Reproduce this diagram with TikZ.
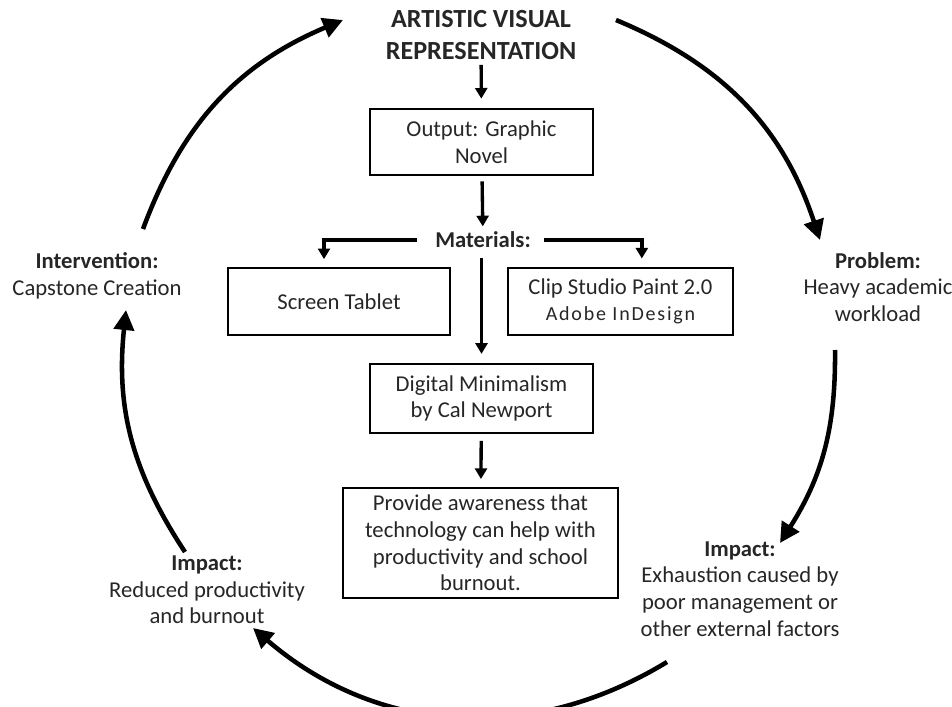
\documentclass[tikz,border=0pt]{standalone}
\usepackage{fontspec}
\setmainfont{Carlito}
\usetikzlibrary{arrows.meta}
\definecolor{txtgray}{HTML}{262626}

\begin{document}
\begin{tikzpicture}[x=0.75pt, y=-0.75pt, text=txtgray,
    font=\fontsize{17}{20}\selectfont]
    \tikzstyle{block} = [draw=black, line width=1.5pt, rectangle,
    align=center, inner sep=2pt, minimum width=167pt, minimum height=50pt];
    \tikzstyle{stage} = [align=center, inner sep=0pt];
    \tikzstyle{line} = [line width=2.5pt, -{Triangle[length=8pt, width=9pt]}];
    \tikzstyle{loopline} = [line width=3.4pt, -{Triangle[length=15pt, width=15pt]}];
    \useasboundingbox (0,0) rectangle (952,706);

    % center column
    \node [stage, font=\bfseries\fontsize{19.6}{23.5}\selectfont] (title) at (481,35)
        {ARTISTIC VISUAL\\REPRESENTATION};
    \node [block] (out) at (481.5,142) {Output: Graphic\\Novel};
    \node [stage, font=\bfseries\fontsize{17}{20}\selectfont] (mat) at (483,240) {Materials:};
    \node [block, minimum width=166.5pt] (tab) at (339,301.5) {Screen Tablet};
    \node [block, minimum width=169pt] (clip) at (620.5,301.5)
        {Clip Studio Paint 2.0\\{\fontsize{15}{18}\selectfont\addfontfeatures{LetterSpace=9}Adobe InDesign}};
    \node [block, minimum height=52pt] (dig) at (481.5,398.5)
        {Digital Minimalism\\by Cal Newport};
    \node [block, minimum width=206pt, minimum height=82.5pt] (prov) at (480.5,543)
        {Provide awareness that\\technology can help with\\productivity and school\\burnout.};

    % cycle labels
    \node [stage] (interv) at (97,276) {\textbf{Intervention:}\\Capstone Creation};
    \node [stage] (prob) at (878,287) {\textbf{Problem:}\\Heavy academic\\workload};
    \node [stage] (impR) at (740,589)
        {\textbf{Impact:}\\Exhaustion caused by\\poor management or\\other external factors};
    \node [stage] (impL) at (207,590)
        {\textbf{Impact:}\\Reduced productivity\\and burnout};

    \draw[line, shorten <=4pt, shorten >=6.75pt] (title) -- (out);
    \draw[line, shorten <=3.75pt, shorten >=4pt] (out) -- (mat);
    \draw[line, shorten <=13.5pt, shorten >=6pt] (mat.west) -| ([xshift=-11.25pt]tab.north);
    \draw[line, shorten <=10pt, shorten >=6.5pt] (mat.east) -| ([xshift=16pt]clip.north);
    \draw[line, shorten <=7.5pt, shorten >=6.75pt] (dig.north |- mat.south) -- (dig.north);
    \draw[line, shorten <=5pt, shorten >=6pt] (dig) -- (prov);

    % outer cycle
    \coordinate (c1s) at (143,229);
    \coordinate (c1e) at (343,20);
    \coordinate (c2s) at (616,20);
    \coordinate (c2e) at (820,240);
    \coordinate (c3s) at (835,350);
    \coordinate (c3e) at (780,543);
    \coordinate (c4s) at (667,662);
    \coordinate (c4e) at (253,628);
    \coordinate (c5s) at (185,552);
    \coordinate (c5e) at (126,310);
    \draw[loopline] (c1s) to[bend left=23.4] (c1e);
    \draw[loopline] (c2s) to[bend left=24.6] (c2e);
    \draw[loopline] (c3s) to[bend left=16.5] (c3e);
    \draw[loopline] (c4s) to[bend left=36] (c4e);
    \draw[loopline] (c5s) to[bend left=19.7] (c5e);
\end{tikzpicture}
\end{document}
